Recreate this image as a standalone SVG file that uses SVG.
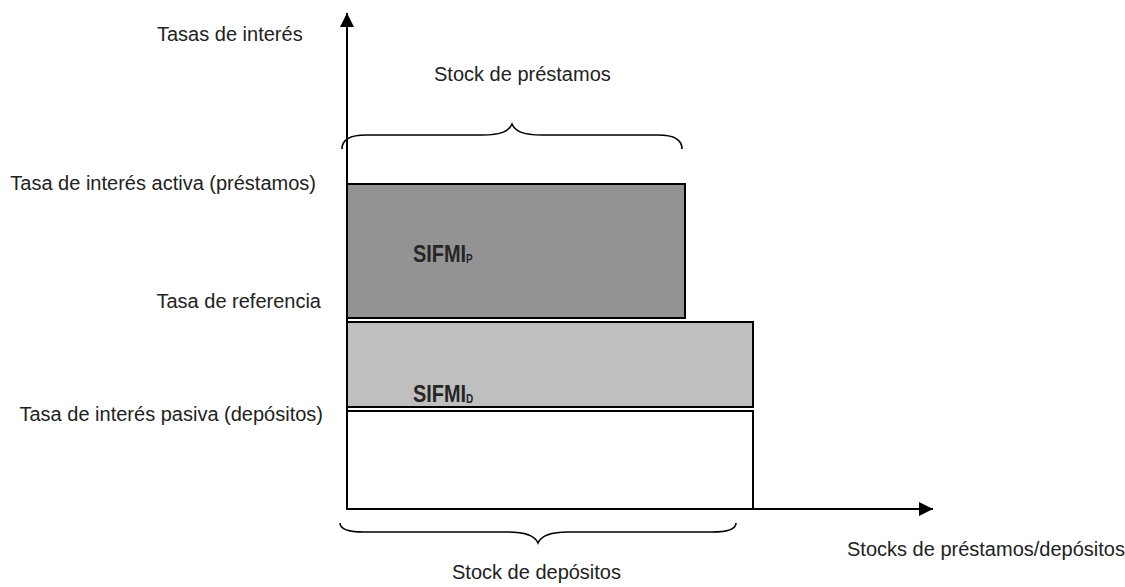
<svg xmlns="http://www.w3.org/2000/svg" width="1125" height="587" viewBox="0 0 1125 587">
<style>
.lbl{font-family:"Liberation Sans",Arial,sans-serif;font-size:20px;fill:#222}
.big{font-family:"Liberation Sans Narrow","Arial Narrow","Liberation Sans",Arial,sans-serif;font-size:24px;font-weight:bold;fill:#262626}
.sub{font-size:12px}
.box{stroke:#000;stroke-width:2}
.brace{fill:none;stroke:#000;stroke-width:1.6}
.axis{stroke:#000;stroke-width:2;fill:none}
</style>
<defs>
<marker id="ah" markerWidth="14" markerHeight="14" refX="14" refY="7" orient="auto" markerUnits="userSpaceOnUse">
<path d="M0,0 L14,7 L0,14 Z" fill="#000"/>
</marker>
</defs>
<rect width="1125" height="587" fill="#fff"/>
<g id="sifmi-p">
<rect class="box" x="347" y="184" width="338" height="134" fill="#929392"/>
<text class="big" transform="translate(413,262) scale(0.83,1)">SIFMI<tspan class="sub" dy="1">P</tspan></text>
</g>
<g id="sifmi-d">
<rect class="box" x="347" y="322" width="406" height="85" fill="#bfbfbf"/>
<text class="big" transform="translate(413,402) scale(0.83,1)">SIFMI<tspan class="sub" dy="1">D</tspan></text>
</g>
<g id="base">
<rect class="box" x="347" y="411" width="406" height="98" fill="#fff"/>
</g>
<g id="connectors">
<line class="axis" x1="347" y1="510" x2="347" y2="13" marker-end="url(#ah)"/>
<line class="axis" x1="753" y1="509" x2="933" y2="509" marker-end="url(#ah)"/>
<path class="brace" d="M342,149 C342,139 350,135 366,135 L482,135 C502,135 509,131 512,124 C515,131 522,135 542,135 L658,135 C674,135 682,139 682,149"/>
<path class="brace" d="M340,523 C340,529 348,532 364,532 L508,532 C527,532 535,536 538,543 C541,536 549,532 568,532 L712,532 C728,532 736,529 736,523"/>
</g>
<g id="labels">
<text class="lbl" x="157" y="41">Tasas de interés</text>
<text class="lbl" x="434" y="81">Stock de préstamos</text>
<text class="lbl" x="316" y="190" text-anchor="end">Tasa de interés activa (préstamos)</text>
<text class="lbl" x="321" y="308" text-anchor="end">Tasa de referencia</text>
<text class="lbl" x="323" y="421" text-anchor="end">Tasa de interés pasiva (depósitos)</text>
<text class="lbl" x="847" y="556">Stocks de préstamos/depósitos</text>
<text class="lbl" x="452" y="579">Stock de depósitos</text>
</g>
</svg>
